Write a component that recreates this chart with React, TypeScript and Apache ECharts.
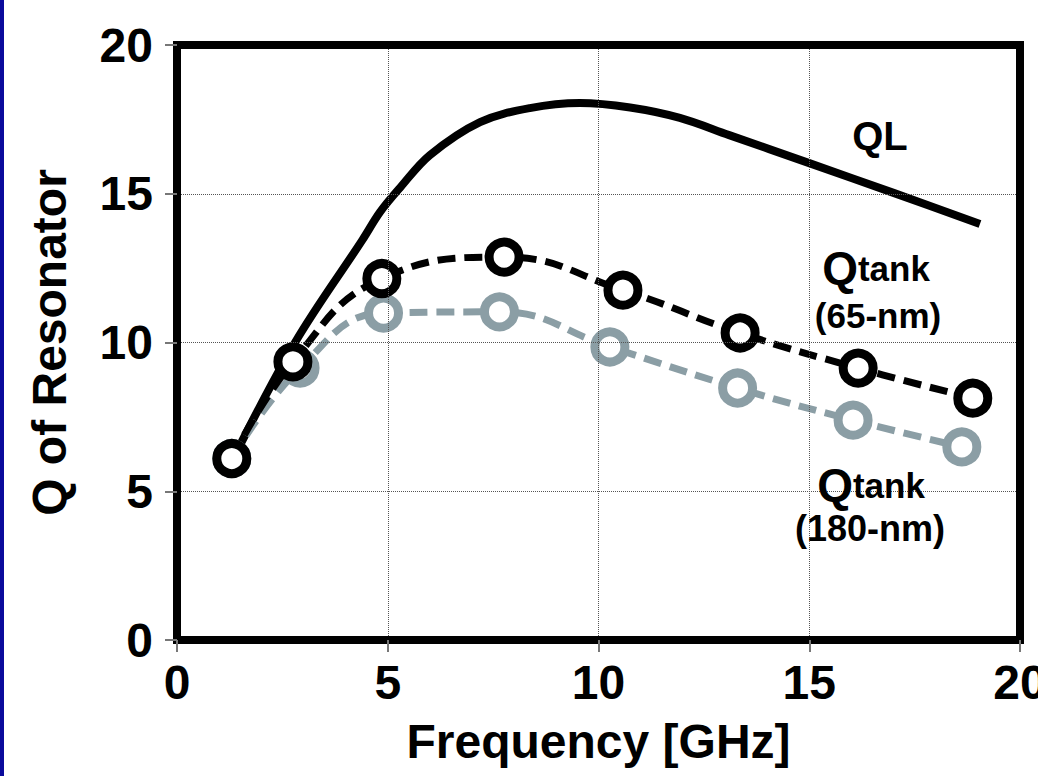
import React, { useEffect, useRef } from "react";
import * as echarts from "echarts";

// ---- Data ----
const qlFreq = [1.3, 2.8, 4.4, 4.82, 5.29, 6.0, 7.19, 8.37, 9.56, 10.75, 11.93, 13.1, 15.0, 17.0, 19.05];
const qlValues = [6.0, 10.0, 13.45, 14.39, 15.2, 16.3, 17.41, 17.88, 18.05, 17.9, 17.55, 16.97, 16.03, 15.03, 13.98];

const freq65 = [1.3, 2.75, 4.86, 7.76, 10.58, 13.36, 16.16, 18.88];
const q65 = [6.1, 9.35, 12.15, 12.87, 11.76, 10.32, 9.14, 8.13];

const freq180 = [1.3, 2.92, 4.9, 7.65, 10.27, 13.3, 16.04, 18.62];
const q180 = [6.1, 9.14, 10.99, 11.03, 9.85, 8.47, 7.39, 6.49];

const xMin = 0;
const xMax = 20;
const xStep = 5;
const yMin = 0;
const yMax = 20;
const yStep = 5;

const xTitle = "Frequency [GHz]";
const yTitle = "Q of Resonator";

const FONT = "'Liberation Sans', Arial, Helvetica, sans-serif";

const zip = (xs: number[], ys: number[]) => xs.map((x, i) => [x, ys[i]]);

export default function App() {
  const ref = useRef<HTMLDivElement>(null);

  useEffect(() => {
    if (!ref.current) return;
    const chart = echarts.init(ref.current, undefined, { renderer: "svg" });
    const ringSymbol = (border: string) => ({
      symbol: "circle",
      symbolSize: 30,
      showAllSymbol: true,
      itemStyle: { color: "#ffffff", borderColor: border, borderWidth: 9 },
    });
    const frameLine = { show: true, onZero: false, lineStyle: { color: "#000", width: 8, cap: "square" } };
    const labelStyle = { fontFamily: FONT, fontWeight: "bold", fontSize: 48, color: "#000" };
    const tick = { show: true, length: 12, lineStyle: { color: "#777", width: 2 } };
    const split = { show: true, lineStyle: { type: "dotted", color: "#555", width: 1 } };
    chart.setOption({
      animation: false,
      backgroundColor: "#ffffff",
      grid: {
        left: 177,
        right: 18,
        top: 45,
        bottom: 136,
        outerBoundsMode: "none",
        containLabel: false,
      },
      xAxis: [
        {
          type: "value",
          position: "bottom",
          min: xMin,
          max: xMax,
          interval: xStep,
          name: xTitle,
          nameLocation: "middle",
          nameGap: 77,
          nameTextStyle: labelStyle,
          axisLine: frameLine,
          axisTick: tick,
          axisLabel: { margin: 18, ...labelStyle },
          splitLine: split,
          z: 5,
        },
        {
          type: "value",
          position: "top",
          min: xMin,
          max: xMax,
          interval: xStep,
          axisLine: frameLine,
          axisTick: { show: false },
          axisLabel: { show: false },
          splitLine: { show: false },
          z: 5,
        },
      ],
      yAxis: [
        {
          type: "value",
          position: "left",
          min: yMin,
          max: yMax,
          interval: yStep,
          name: yTitle,
          nameLocation: "middle",
          nameGap: 104,
          nameTextStyle: labelStyle,
          axisLine: frameLine,
          axisTick: tick,
          axisLabel: { margin: 24, ...labelStyle },
          splitLine: split,
          z: 5,
        },
        {
          type: "value",
          position: "right",
          min: yMin,
          max: yMax,
          interval: yStep,
          axisLine: frameLine,
          axisTick: { show: false },
          axisLabel: { show: false },
          splitLine: { show: false },
          z: 5,
        },
      ],
      series: [
        {
          name: "QL",
          type: "line",
          data: zip(qlFreq, qlValues),
          smooth: 0.35,
          showSymbol: false,
          symbol: "none",
          lineStyle: { color: "#000", width: 8, cap: "butt", join: "round" },
          z: 2,
        },
        {
          name: "Qtank (180-nm)",
          type: "line",
          data: zip(freq180, q180),
          smooth: 0.45,
          lineStyle: { color: "#8b9ea5", width: 7, type: [18, 9] },
          ...ringSymbol("#8b9ea5"),
          z: 3,
        },
        {
          name: "Qtank (65-nm)",
          type: "line",
          data: zip(freq65, q65),
          smooth: 0.45,
          lineStyle: { color: "#000", width: 7, type: [18, 9] },
          ...ringSymbol("#000"),
          z: 4,
        },
      ],
      graphic: [
        {
          type: "rect",
          shape: { x: 0, y: 0, width: 4, height: 776 },
          style: { fill: "#0a0a9c" },
          z: 10,
        },
        {
          type: "text",
          x: 880,
          y: 136,
          style: {
            text: "QL",
            font: `bold 40px ${FONT}`,
            fill: "#000",
            textAlign: "center",
            textVerticalAlign: "middle",
          },
          z: 10,
        },
        {
          type: "text",
          x: 876,
          y: 268,
          style: {
            text: "{q|Q}{t|tank}",
            fill: "#000",
            textAlign: "center",
            textVerticalAlign: "middle",
            rich: {
              q: { font: `bold 46px ${FONT}`, fill: "#000" },
              t: { font: `bold 35px ${FONT}`, fill: "#000" },
            },
          },
          z: 10,
        },
        {
          type: "text",
          x: 878,
          y: 315,
          style: {
            text: "(65-nm)",
            font: `bold 35px ${FONT}`,
            fill: "#000",
            textAlign: "center",
            textVerticalAlign: "middle",
          },
          z: 10,
        },
        {
          type: "text",
          x: 871,
          y: 485,
          style: {
            text: "{q|Q}{t|tank}",
            fill: "#000",
            textAlign: "center",
            textVerticalAlign: "middle",
            rich: {
              q: { font: `bold 46px ${FONT}`, fill: "#000" },
              t: { font: `bold 35px ${FONT}`, fill: "#000" },
            },
          },
          z: 10,
        },
        {
          type: "text",
          x: 870,
          y: 528,
          style: {
            text: "(180-nm)",
            font: `bold 36px ${FONT}`,
            fill: "#000",
            textAlign: "center",
            textVerticalAlign: "middle",
          },
          z: 10,
        },
      ],
    });
    return () => chart.dispose();
  }, []);

  return (
    <div
      ref={ref}
      style={{ position: "fixed", left: 0, top: 0, width: 1038, height: 776, background: "#fff" }}
    />
  );
}
